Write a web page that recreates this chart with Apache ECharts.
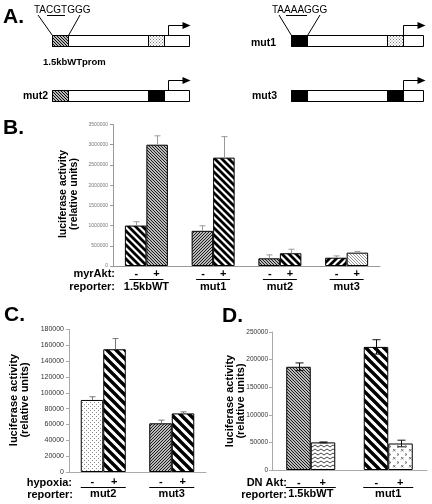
<!DOCTYPE html>
<html><head><meta charset="utf-8">
<script src="https://cdn.jsdelivr.net/npm/echarts@6/dist/echarts.min.js"></script>
<style>html,body{margin:0;padding:0;background:#fff}#c{width:432px;height:504px}</style>
</head><body><div id="c"></div>
<script>
// ---------------- DATA ----------------
// Panel B
const bGroups = ['1.5kbWT', 'mut1', 'mut2', 'mut3'];
const bMinus = [1000000, 870000, 190000, 205000];
const bMinusErr = [95000, 125000, 85000, 45000];
const bPlus = [3000000, 2680000, 315000, 330000];
const bPlusErr = [220000, 520000, 100000, 30000];
const bAxis = { min: 0, max: 3500000, interval: 500000 };
const bCondition = 'myrAkt:';
// Panel C
const cGroups = ['mut2', 'mut3'];
const cMinus = [91000, 61500];
const cMinusErr = [4000, 4000];
const cPlus = [155000, 74000];
const cPlusErr = [13500, 2000];
const cAxis = { min: 0, max: 180000, interval: 20000 };
const cCondition = 'hypoxia:';
// Panel D
const dGroups = ['1.5kbWT', 'mut1'];
const dMinus = [187000, 223000];
const dMinusErr = [7000, 13000];
const dPlus = [50000, 48000];
const dPlusErr = [800, 6000];
const dAxis = { min: 0, max: 250000, interval: 50000 };
const dCondition = 'DN Akt:';
const reporterLabel = 'reporter:';
const signs = ['-', '+'];
const yTitle = ['luciferase activity', '(relative units)'];
// Panel A texts
const aWtSeq = 'TACGTGGG', aMutSeq = 'TAAAAGGG';
const aNames = ['1.5kbWTprom', 'mut1', 'mut2', 'mut3'];

// ---------------- STYLE ----------------
const FONT = '"Liberation Sans", Arial, Helvetica, sans-serif';
function mk(w, h, draw) {
  const c = document.createElement('canvas'); c.width = w; c.height = h;
  const x = c.getContext('2d'); x.fillStyle = '#fff'; x.fillRect(0, 0, w, h);
  draw(x, w, h); return { image: c, repeat: 'repeat' };
}
function stripes(p, lw, dir, col) {
  return mk(p, p, (x) => {
    x.strokeStyle = col; x.lineWidth = lw; x.beginPath();
    for (let o = -p; o <= p; o += p) {
      if (dir === 'b') { x.moveTo(o - 1, -1); x.lineTo(o + p + 1, p + 1); }
      else { x.moveTo(o - 1, p + 1); x.lineTo(o + p + 1, -1); }
    }
    x.stroke();
  });
}
const PAT = {
  thickB: stripes(7, 2.8, 'b', '#000'),
  thickF: stripes(7, 2.8, 'f', '#000'),
  wideB: stripes(9, 3.4, 'b', '#000'),
  fineB: stripes(3, 1.1, 'b', '#111'),
  fineF: stripes(3, 1.1, 'f', '#111'),
  lightB: stripes(3, 0.9, 'b', '#8a8a8a'),
  dots: mk(4, 4, (x) => { x.fillStyle = '#8a8a8a'; x.fillRect(0, 0, 1, 1); x.fillRect(2, 2, 1, 1); }),
  zig: mk(6, 4, (x) => { x.strokeStyle = '#444'; x.lineWidth = 1; x.beginPath(); x.moveTo(0, 3); x.lineTo(3, 1); x.lineTo(6, 3); x.stroke(); }),
  cross: mk(8, 8, (x) => { x.strokeStyle = '#555'; x.lineWidth = 0.8; x.beginPath(); x.moveTo(1, 1); x.lineTo(3.5, 3.5); x.moveTo(3.5, 1); x.lineTo(1, 3.5); x.moveTo(5, 5.5); x.lineTo(7, 6.5); x.lineTo(5, 7.5); x.stroke(); }),
  aHatch: stripes(3, 1.1, 'b', '#000'),
  aDots: mk(3, 3, (x) => { x.fillStyle = '#777'; x.fillRect(0, 0, 1, 1); x.fillRect(1.5, 1.5, 1, 1); })
};
const bMinusPat = ['thickB', 'fineF', 'fineB', 'thickF'];
const bPlusPat = ['fineB', 'thickB', 'thickB', 'lightB'];
const cMinusPat = ['dots', 'fineF'];
const cPlusPat = ['wideB', 'wideB'];
const dMinusPat = ['fineB', 'wideB'];
const dPlusPat = ['zig', 'cross'];

function txt(x, y, s, font, extra) {
  return Object.assign({ type: 'text', x: x, y: y, style: { text: s, font: font, fill: '#000', textAlign: 'center', textVerticalAlign: 'middle', align: 'center', verticalAlign: 'middle' } }, extra || {});
}
function txtL(x, y, s, font, align) {
  return { type: 'text', x: x, y: y, style: { text: s, font: font, fill: '#000', textAlign: align || 'left', align: align || 'left', textVerticalAlign: 'middle', verticalAlign: 'middle' } };
}

const panels = [
  { grid: { left: 113, top: 124.5, width: 267, height: 141.5 }, groups: bGroups, minus: bMinus, minusErr: bMinusErr, plus: bPlus, plusErr: bPlusErr,
    mPat: bMinusPat, pPat: bPlusPat, axis: bAxis, bw: 21.5, labelFont: 5, labelColor: '#777', labelMargin: 5, axisColor: '#999',
    errColor: '#999', cap: 3, both: false, dx: 10, pmY: 7.5, ulHalf: 17, ulY: 13, nmY: 20.5 },
  { grid: { left: 69, top: 329.5, width: 137, height: 142.5 }, groups: cGroups, minus: cMinus, minusErr: cMinusErr, plus: cPlus, plusErr: cPlusErr,
    mPat: cMinusPat, pPat: cPlusPat, axis: cAxis, bw: 22.5, labelFont: 7, labelColor: '#333', labelMargin: 5, axisColor: '#aaa',
    errColor: '#777', cap: 3, both: false, dx: 11, pmY: 10, ulHalf: 22.5, ulY: 15, nmY: 22 },
  { grid: { left: 272, top: 332, width: 155, height: 138 }, groups: dGroups, minus: dMinus, minusErr: dMinusErr, plus: dPlus, plusErr: dPlusErr,
    mPat: dMinusPat, pPat: dPlusPat, axis: dAxis, bw: 24.5, labelFont: 6.5, labelColor: '#333', labelMargin: 4, axisColor: '#aaa',
    errColor: '#111', cap: 4, both: true, dx: 12, pmY: 12.5, ulHalf: 25, ulY: 17, nmY: 24 }
];

const grids = [], xAxes = [], yAxes = [], series = [];
panels.forEach((P, k) => {
  grids.push(P.grid);
  xAxes.push({ type: 'category', gridIndex: k, data: P.groups, axisLine: { lineStyle: { color: P.axisColor, width: 1 } }, axisTick: { show: false }, axisLabel: { show: false } });
  yAxes.push({ type: 'value', gridIndex: k, min: P.axis.min, max: P.axis.max, interval: P.axis.interval, splitLine: { show: false },
    axisLine: { show: true, lineStyle: { color: P.axisColor, width: 1 } }, axisTick: { show: true, length: 3, lineStyle: { color: P.axisColor } },
    axisLabel: { fontSize: P.labelFont, color: P.labelColor, margin: P.labelMargin, fontFamily: FONT, formatter: (v) => String(v) } });
  const mkBar = (vals, pats) => ({ type: 'bar', xAxisIndex: k, yAxisIndex: k, barWidth: P.bw, barGap: '0%', silent: true,
    data: vals.map((v, i) => ({ value: v, itemStyle: { color: PAT[pats[i]], borderColor: '#000', borderWidth: 1 } })) });
  series.push(mkBar(P.minus, P.mPat), mkBar(P.plus, P.pPat));
  const mkErr = (vals, errs, side) => ({ type: 'custom', xAxisIndex: k, yAxisIndex: k, silent: true, z: 5,
    data: vals.map((v, i) => [i, v, errs[i]]),
    renderItem: (params, api) => {
      const i = api.value(0), v = api.value(1), e = api.value(2);
      const top = api.coord([i, v + e]);
      const bot = api.coord([i, P.both ? v - e : v]);
      const x = Math.round(top[0] + side * P.bw / 2) + 0.5;
      const st = { stroke: P.errColor, lineWidth: 1 };
      const ch = [
        { type: 'line', shape: { x1: x, y1: bot[1], x2: x, y2: top[1] }, style: st },
        { type: 'line', shape: { x1: x - P.cap, y1: top[1], x2: x + P.cap, y2: top[1] }, style: st }
      ];
      if (P.both) ch.push({ type: 'line', shape: { x1: x - P.cap, y1: bot[1], x2: x + P.cap, y2: bot[1] }, style: st });
      return { type: 'group', children: ch };
    } });
  series.push(mkErr(P.minus, P.minusErr, -1), mkErr(P.plus, P.plusErr, 1));
  series.push({ type: 'custom', xAxisIndex: k, yAxisIndex: k, silent: true, z: 5,
    data: P.groups.map((g, i) => [i, 0]),
    renderItem: (params, api) => {
      const i = api.value(0); const p = api.coord([i, 0]);
      const cx = p[0], y = p[1];
      const f = 'bold 11px ' + FONT;
      return { type: 'group', children: [
        txt(cx - P.dx, y + P.pmY, signs[0], f), txt(cx + P.dx, y + P.pmY, signs[1], f),
        { type: 'line', shape: { x1: cx - P.ulHalf, y1: Math.round(y + P.ulY) + 0.5, x2: cx + P.ulHalf, y2: Math.round(y + P.ulY) + 0.5 }, style: { stroke: '#000', lineWidth: 1 } },
        txt(cx, y + P.nmY, P.groups[i], f)
      ] };
    } });
});

// ---------------- PANEL A & free text ----------------
const G = [];
const bold = (s) => 'bold ' + s + 'px ' + FONT;
const ln = (x1, y1, x2, y2, w) => ({ type: 'line', shape: { x1, y1, x2, y2 }, style: { stroke: '#000', lineWidth: w || 1 } });
const rc = (x, y, w, h, fill) => ({ type: 'rect', shape: { x, y, width: w, height: h }, style: { fill: fill, stroke: '#000', lineWidth: 1 } });
function construct(x0, y0, w, first, second, arrowX) {
  G.push(rc(x0, y0, w, 11, '#fff'));
  G.push(rc(x0, y0, 16, 11, first));
  G.push(rc(x0 + 96, y0, 16, 11, second));
  G.push({ type: 'polyline', shape: { points: [[arrowX, y0], [arrowX, y0 - 10], [arrowX + 15, y0 - 10]] }, style: { stroke: '#000', lineWidth: 1, fill: null } });
  G.push({ type: 'polygon', shape: { points: [[arrowX + 14, y0 - 13.5], [arrowX + 22, y0 - 10], [arrowX + 14, y0 - 6.5]] }, style: { fill: '#000' } });
}
G.push(txtL(3, 17, 'A.', bold(21)));
G.push(txtL(34, 10, aWtSeq, '10px ' + FONT));
G.push(ln(47, 15.5, 65, 15.5));
G.push(ln(38, 15, 52.5, 35.5), ln(80, 15, 68.5, 35.5));
construct(52.5, 35.5, 137, PAT.aHatch, PAT.aDots, 168.5);
G.push(txtL(43, 62, aNames[0], bold(9.5)));
G.push(txtL(272, 10, aMutSeq, '10px ' + FONT));
G.push(ln(286, 15.5, 307, 15.5));
G.push(ln(279, 15, 291.5, 35.5), ln(320, 15, 307.5, 35.5));
construct(291.5, 35.5, 132, '#000', PAT.aDots, 403.5);
G.push(txtL(251, 43, aNames[1], bold(10.5)));
construct(52.5, 90.5, 137, PAT.aHatch, '#000', 168.5);
G.push(txtL(23, 96, aNames[2], bold(10.5)));
construct(291.5, 90.5, 132, '#000', '#000', 403.5);
G.push(txtL(252, 96, aNames[3], bold(10.5)));

G.push(txtL(3, 128, 'B.', bold(21)), txtL(4, 315, 'C.', bold(21)), txtL(222, 316, 'D.', bold(21)));
// y titles
const rot = { rotation: Math.PI / 2 };
G.push(txt(63, 194, yTitle[0], bold(10.5), rot), txt(74, 194, yTitle[1], bold(10.5), rot));
G.push(txt(14, 400, yTitle[0], bold(11), rot), txt(24.5, 400, yTitle[1], bold(11), rot));
G.push(txt(230, 401, yTitle[0], bold(11), rot), txt(240.5, 401, yTitle[1], bold(11), rot));
// condition / reporter row labels
G.push(txtL(115, 274, bCondition, bold(11), 'right'), txtL(115, 287, reporterLabel, bold(11), 'right'));
G.push(txtL(72, 483, cCondition, bold(11), 'right'), txtL(73, 494.5, reporterLabel, bold(11), 'right'));
G.push(txtL(287, 483, dCondition, bold(11), 'right'), txtL(287, 494.5, reporterLabel, bold(11), 'right'));

const chart = echarts.init(document.getElementById('c'), null, { renderer: 'canvas' });
chart.setOption({
  animation: false,
  backgroundColor: '#fff',
  textStyle: { fontFamily: FONT },
  grid: grids.map(g => Object.assign({ outerBoundsMode: 'none', containLabel: false }, g)),
  xAxis: xAxes, yAxis: yAxes, series: series,
  graphic: { elements: G }
});
</script></body></html>
